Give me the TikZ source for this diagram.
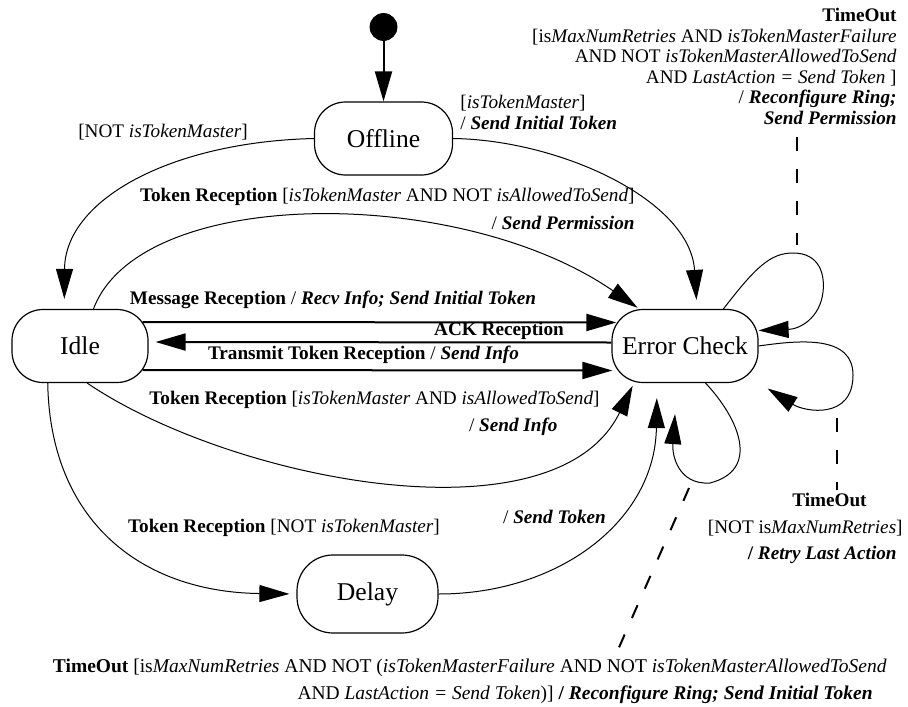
\documentclass[tikz,border=0pt]{standalone}
\usepackage{fontspec}
\setmainfont{Liberation Serif}
\usetikzlibrary{arrows.meta}

\begin{document}
\begin{tikzpicture}[x=0.5pt, y=-0.5pt, node distance={302.5pt},
  main/.style = {draw, line width=0.6pt, rounded corners=15.5pt, minimum width=69pt, minimum height=36.5pt, inner sep=0pt, font=\fontsize{12.8}{15}\selectfont},
  lbl/.style = {inner sep=0pt, font=\fontsize{9.6}{13.5}\selectfont},
  tr/.style = {line width=0.5pt, -{Triangle[length=15pt, width=8.5pt]}},
  thk/.style = {line width=1pt, -{Triangle[length=15pt, width=8.5pt]}},
  note/.style = {line width=1pt, dash pattern=on 7pt off 9pt}]
\useasboundingbox (0,0) rectangle (908,706);

\node[main] (1) at (383.5,138.5) {Offline};
\node[draw, circle, fill, inner sep=0pt, minimum size=13.5pt] (0) [above of=1, node distance=55.75pt] {};
\node[main, minimum width=68pt] (2) at (80,346) {Idle};
\node[main, minimum width=73pt] (3) [right of=2] {Error Check};
\node[main, minimum width=70.5pt, minimum height=39pt, rounded corners=18pt] (4) [below of=1, node distance=227.75pt, xshift=-8pt] {Delay};

\draw[thk] (0) -- (1);
\draw[tr, shorten >=5pt] (1.west) .. controls (170,142) and (65,200) .. (2.113);
\draw[tr, shorten >=4.5pt] (1.east) .. controls (560,140) and (690,200) .. (3.72);
\draw[tr, shorten >=1pt] (2.70) .. controls (140,185) and (460,185) .. (3.141);
\draw[thk] ([xshift=-3pt, yshift=12pt]2.east) -- ([xshift=2.5pt, yshift=11.75pt]3.west);
\draw[thk] ([yshift=1.75pt]3.west) -- ([xshift=3.5pt, yshift=2pt]2.east);
\draw[thk] ([xshift=-3pt, yshift=-12pt]2.east) -- ([xshift=0.5pt, yshift=-12.25pt]3.west);
\draw[tr, shorten >=1.5pt] (2.-79) .. controls (230,480) and (555,545) .. (3.-144);
\draw[tr, shorten >=3.5pt] (2.-131) .. controls (50,520) and (140,592) .. (4.west);
\draw[tr, shorten >=7.5pt] (4.east) .. controls (560,594) and (655,520) .. (3.-127.5);

% self loops
\draw[tr] (3.44) .. controls (755,268) and (770,253) .. (793,253) .. controls (820,253) and (825,275) .. (823,292) .. controls (820,318) and (800,329) .. ([yshift=7.75pt]3.east);
\draw[tr] (3.east) .. controls (800,340) and (853,335) .. (853,375) .. controls (853,420) and (805,412) .. ([xshift=4.5pt, yshift=-21.25pt]3.east);
\draw[tr] (3.-61) .. controls (740,420) and (760,470) .. (710,483) .. controls (678,485) and (672,455) .. ([xshift=-5pt, yshift=-15.5pt]3.south);

\node[lbl] (l1) at (163,132) {[NOT \textit{isTokenMaster}]};
\node[lbl, align=left, anchor=west, font=\fontsize{9.6}{10.5}\selectfont] (l2) at (460,112.5) {[\textit{isTokenMaster}]\\/ \textbf{\textit{Send Initial Token}}};
\node[lbl, align=right, anchor=east, font=\fontsize{9.6}{14}\selectfont] (l3) at (635,209) {\textbf{Token Reception} [\textit{isTokenMaster} AND NOT \textit{isAllowedToSend}]\\/ \textbf{\textit{Send Permission}}};
\node[lbl] (l4) at (333,300) {\textbf{Message Reception} / \textbf{\textit{Recv Info; Send Initial Token}}};
\node[lbl] (l5) at (499,331) {\textbf{ACK Reception}};
\node[lbl] (l6) at (363.5,355) {\textbf{Transmit Token Reception} / \textbf{\textit{Send Info}}};
\node[lbl, align=right, anchor=east] (l7) at (600,413.5) {\textbf{Token Reception} [\textit{isTokenMaster} AND \textit{isAllowedToSend}]\\/ \textbf{\textit{Send Info}}\hspace*{21pt}};
\node[lbl] (l8) at (284,528) {\textbf{Token Reception} [NOT \textit{isTokenMaster}]};
\node[lbl] (l9) at (554.5,517) {/ \textbf{\textit{Send Token}}};
\node[lbl, align=right, anchor=east, font=\fontsize{9.6}{10.3}\selectfont] (l10) at (897,66.5) {\textbf{TimeOut}\\{[}is\textit{MaxNumRetries} AND \textit{isTokenMasterFailure}\\AND NOT \textit{isTokenMasterAllowedToSend}\\AND \textit{LastAction = Send Token} ]\\/ \textbf{\textit{Reconfigure Ring;}}\\\textbf{\textit{Send Permission}}};
\node[lbl, align=right, anchor=east, font=\fontsize{9.6}{13.25}\selectfont] (l11) at (903,528.5) {\textbf{TimeOut}\hspace*{18pt}\\{[}NOT is\textit{MaxNumRetries}]\\\textbf{/ \textit{Retry Last Action}}\hspace*{3pt}};
\node[lbl, align=right, anchor=east, font=\fontsize{9.75}{13.5}\selectfont] (l12) at (887,681.5) {\textbf{TimeOut} [is\textit{MaxNumRetries} AND NOT (\textit{isTokenMasterFailure} AND NOT \textit{isTokenMasterAllowedToSend}\\AND \textit{LastAction = Send Token})] \textbf{/ \textit{Reconfigure Ring; Send Initial Token}}\hspace*{7pt}};

% notes
\coordinate (n1) at (797,137);
\coordinate (n2) at (797,245);
\coordinate (n3) at (837,418);
\coordinate (n4) at (837,490);
\coordinate (n5) at (689,488);
\coordinate (n6) at (617,652);
\draw[note] (n1) -- (n2);
\draw[note] (n3) -- (n4);
\draw[note] (n5) -- (n6);

\end{tikzpicture}
\end{document}
